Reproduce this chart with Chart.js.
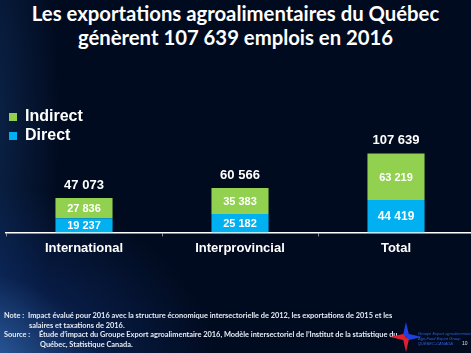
<!DOCTYPE html>
<html><head><meta charset="utf-8">
<script src="https://cdn.jsdelivr.net/npm/chart.js@4/dist/chart.umd.min.js"></script>
<style>
html,body{margin:0;padding:0;width:471px;height:353px;overflow:hidden;}
body{position:relative;background:
radial-gradient(ellipse 260px 200px at -40px 380px, rgba(70,140,230,0.8), rgba(20,60,140,0.35) 55%, rgba(0,12,32,0) 100%),
radial-gradient(ellipse 90px 300px at -30px 120px, rgba(30,80,150,0.45), rgba(0,12,32,0) 100%),
#010b1f;font-family:"Liberation Sans",Arial,sans-serif;}
#title{position:absolute;left:0;top:1px;width:471px;text-align:center;color:#fff;font-family:Lato,"Open Sans",sans-serif;font-weight:bold;font-size:20.3px;line-height:24px;}
#c{position:absolute;left:0;top:103px;}
.fn{position:absolute;color:#e6ecf5;font-family:Lato,"Open Sans",sans-serif;font-weight:bold;font-size:7.4px;line-height:10px;white-space:nowrap;}
#logo{position:absolute;left:390px;top:322px;}
.lt{position:absolute;color:#3060d0;font-family:"Liberation Sans",sans-serif;font-style:italic;font-size:4px;line-height:5px;white-space:nowrap;}
</style></head><body>
<div id="title">Les exportations agroalimentaires du Québec<br>génèrent 107 639 emplois en 2016</div>
<canvas id="c" width="480" height="250"></canvas>
<div class="fn" style="left:4px;top:311px;">Note :</div>
<div class="fn" style="left:28px;top:311px;">Impact évalué pour 2016 avec la structure économique intersectorielle de 2012, les exportations de 2015 et les</div>
<div class="fn" style="left:29px;top:321px;">salaires et taxations de 2016.</div>
<div class="fn" style="left:4px;top:330px;">Source :</div>
<div class="fn" style="left:39px;top:330px;">Étude d’impact du Groupe Export agroalimentaire 2016, Modèle intersectoriel de l’Institut de la statistique du</div>
<div class="fn" style="left:40px;top:340px;">Québec, Statistique Canada.</div>
<svg id="logo" width="32" height="30" viewBox="0 0 32 30">
<polygon points="16,0 19,13 16,15 13,13" fill="#2040e0"/>
<polygon points="16,30 13,17 16,15 19,17" fill="#e02030"/>
<polygon points="0,15 13,12 16,15 13,18" fill="#e02030"/>
<polygon points="32,15 19,18 16,15 19,12" fill="#2040e0"/>
</svg>
<div class="lt" style="left:418px;top:331px;">Groupe Export agroalimentaire</div>
<div class="lt" style="left:418px;top:336px;">Agri-Food Export Group</div>
<div class="lt" style="left:418px;top:341px;">QUÉBEC-CANADA</div>
<div style="position:absolute;left:462px;top:340px;color:#ddd;font-size:5px;font-family:'Liberation Sans';">10</div>
<script>
const categories = ["International", "Interprovincial", "Total"];
const directValues = [19237, 25182, 44419];
const indirectValues = [27836, 35383, 63219];
const totalValues = [47073, 60566, 107639];
const seriesNames = ["Direct", "Indirect"];

function fmt(v){ return String(v).replace(/\B(?=(\d{3})+(?!\d))/g, " "); }

const labelPlugin = {
  id: 'labels',
  afterDatasetsDraw(chart){
    const ctx = chart.ctx;
    ctx.save();
    ctx.fillStyle = '#fff';
    ctx.textAlign = 'center';
    ctx.textBaseline = 'middle';
    chart.data.datasets.forEach((ds, di) => {
      const meta = chart.getDatasetMeta(di);
      meta.data.forEach((bar, i) => {
        const size = (i === 2 && di === 0) ? 12 : 11;
        ctx.font = 'bold ' + size + 'px "Liberation Sans", Arial, sans-serif';
        ctx.fillText(fmt(ds.data[i]), bar.x, (bar.y + bar.base) / 2 + 1);
      });
    });
    const top = chart.getDatasetMeta(1);
    ctx.font = 'bold 13px "Liberation Sans", Arial, sans-serif';
    top.data.forEach((bar, i) => {
      ctx.fillText(fmt(totalValues[i]), bar.x, bar.y - 13);
    });
    ctx.restore();
  }
};

new Chart(document.getElementById('c'), {
  type: 'bar',
  data: {
    labels: categories,
    datasets: [
      { label: seriesNames[0], data: directValues, backgroundColor: '#00b0f0', borderWidth: 0 },
      { label: seriesNames[1], data: indirectValues, backgroundColor: '#92d050', borderWidth: 0 }
    ]
  },
  options: {
    responsive: false,
    animation: false,
    devicePixelRatio: 1,
    layout: { padding: { left: 6, right: 6, top: 2, bottom: 93 } },
    datasets: { bar: { categoryPercentage: 0.366, barPercentage: 1 } },
    scales: {
      x: {
        stacked: true,
        grid: { display: true, drawOnChartArea: false, drawTicks: true, tickLength: 4, offset: true, color: '#8a8f9a', lineWidth: 1 },
        border: { display: true, color: '#ffffff', width: 1.5 },
        ticks: { color: '#ffffff', font: { family: '"Liberation Sans", Arial, sans-serif', size: 13, weight: 'bold' }, padding: 4 }
      },
      y: { stacked: true, display: false, min: 0, max: 174000 }
    },
    plugins: {
      tooltip: { enabled: false },
      legend: {
        position: 'chartArea',
        align: 'start',
        reverse: true,
        title: { display: true, text: ' ', padding: 0, font: { size: 2.5, lineHeight: 1.2 } },
        labels: {
          color: '#ffffff',
          boxWidth: 8, boxHeight: 8,
          padding: 3,
          font: { family: '"Liberation Sans", Arial, sans-serif', size: 16, weight: 'bold' }
        }
      }
    }
  },
  plugins: [labelPlugin]
});
</script>
</body></html>
